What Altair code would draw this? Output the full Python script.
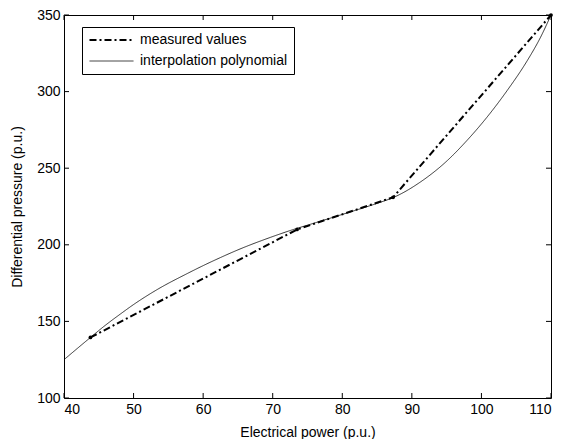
import altair as alt
import pandas as pd

# measured points
meas_x = [43.8, 73.5, 87.3, 110.0]
meas_y = [139.5, 210.0, 231.0, 350.0]

# interpolation polynomial
poly_x = [40, 41.9, 43.8, 45.7, 48.1, 50, 53.4, 57.7, 60, 62.5, 64.9, 69.7, 72.5,
          76, 79.7, 83, 85.5, 87.4, 91.2, 95.1, 97.9, 100.8, 103.7, 106.6, 108.5, 110]
poly_y = [125, 132.3, 139.5, 146.6, 154.8, 161.0, 170.8, 181.2, 186.4, 191.7, 196.5, 204.9, 209.3,
          214.2, 219.4, 224.1, 227.8, 231.0, 240.9, 255, 268, 283.3, 300.7, 320.3, 335.5, 350]

x_ticks = [40, 50, 60, 70, 80, 90, 100, 110]
y_ticks = [100, 150, 200, 250, 300, 350]
series_names = ["measured values", "interpolation polynomial"]

W, H = 487, 383
FONT = "Liberation Sans"

meas_df = pd.DataFrame({"x": meas_x, "y": meas_y, "series": series_names[0]})
poly_df = pd.DataFrame({"x": poly_x, "y": poly_y, "series": series_names[1]})

xs = alt.Scale(domain=[40, 110], nice=False, zero=False)
ys = alt.Scale(domain=[100, 350], nice=False, zero=False)

leg = alt.Legend(
    title=None, orient="none", legendX=18, legendY=12,
    symbolType="M-1,0H7", symbolSize=121, labelOffset=38,
    padding=6, rowPadding=7, strokeColor="black", fillColor="white",
    cornerRadius=0, labelFont=FONT, labelFontSize=14, labelColor="black",
    symbolStrokeColor="black", labelLimit=0,
)
dash_scale = alt.Scale(domain=series_names, range=[[7, 3, 2, 3], [1, 0]])
width_scale = alt.Scale(domain=series_names, range=[2, 0.8])

xenc = alt.X("x:Q", scale=xs, title="Electrical power (p.u.)", axis=alt.Axis(
    values=x_ticks, ticks=False, domain=False, grid=False, labelPadding=4, titlePadding=9))
yenc = alt.Y("y:Q", scale=ys, title="Differential pressure (p.u.)", axis=alt.Axis(
    values=y_ticks, ticks=False, domain=False, grid=False, labelPadding=4, titlePadding=12))

meas_line = alt.Chart(meas_df).mark_line(color="black").encode(
    x=xenc, y=yenc,
    strokeDash=alt.StrokeDash("series:N", scale=dash_scale, legend=leg),
    strokeWidth=alt.StrokeWidth("series:N", scale=width_scale, legend=leg),
)
poly_line = alt.Chart(poly_df).mark_line(color="black", interpolate="monotone").encode(
    x=xenc, y=yenc,
    strokeDash=alt.StrokeDash("series:N", scale=dash_scale, legend=leg),
    strokeWidth=alt.StrokeWidth("series:N", scale=width_scale, legend=leg),
)

pts = alt.Chart(meas_df).mark_circle(color="black", size=14, opacity=1).encode(
    x=xenc, y=yenc
)

xt = alt.Chart(pd.DataFrame({"x": x_ticks}))
yt = alt.Chart(pd.DataFrame({"y": y_ticks}))
tb = xt.mark_rule(color="black", strokeWidth=1).encode(
    x=xenc, y=alt.value(H), y2=alt.value(H - 5))
tt = xt.mark_rule(color="black", strokeWidth=1).encode(
    x=xenc, y=alt.value(0), y2=alt.value(5))
tl = yt.mark_rule(color="black", strokeWidth=1).encode(
    y=yenc, x=alt.value(0), x2=alt.value(5))
tr = yt.mark_rule(color="black", strokeWidth=1).encode(
    y=yenc, x=alt.value(W), x2=alt.value(W - 5))

chart = alt.layer(poly_line, meas_line, pts, tb, tt, tl, tr).properties(
    width=W, height=H,
    background="white",
    autosize=alt.AutoSizeParams(type="none"),
    padding={"left": 56, "top": 7, "right": 12, "bottom": 41},
).configure_view(stroke="black", strokeWidth=1).configure_axis(
    labelFont=FONT, labelFontSize=14, labelColor="black",
    titleFont=FONT, titleFontSize=14, titleColor="black", titleFontWeight="normal",
)

chart.save("out.html", embed_options={"renderer": "svg", "actions": False})
